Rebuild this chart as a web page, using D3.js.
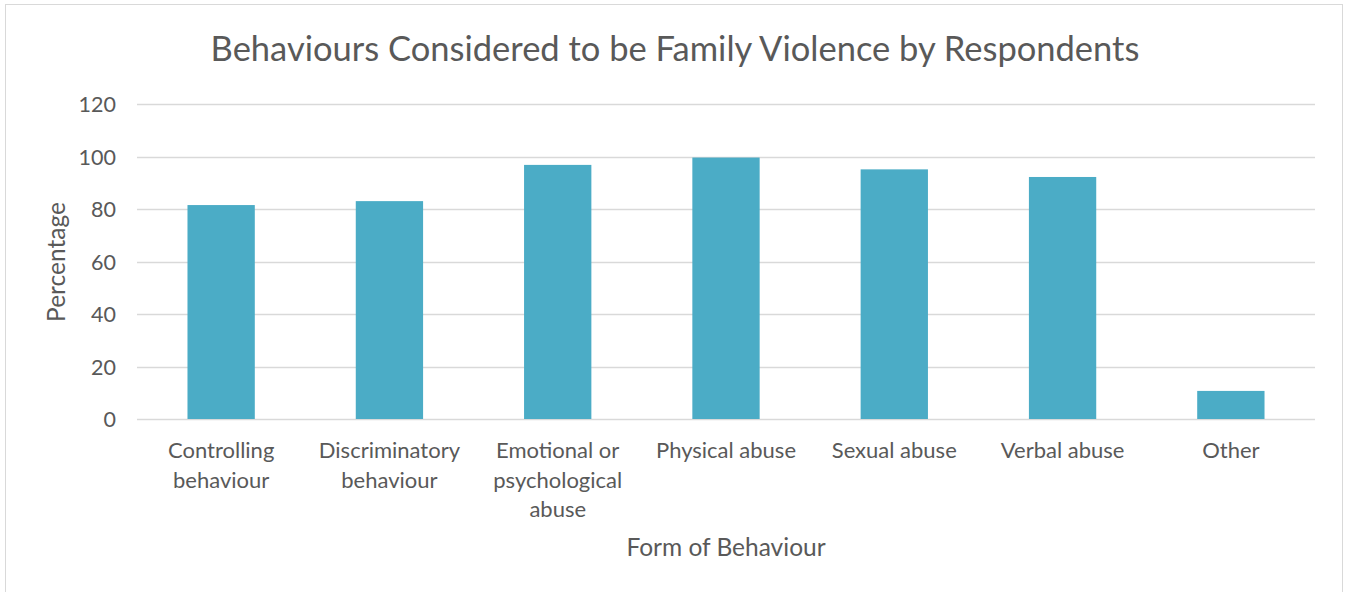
<!DOCTYPE html>
<html>
<head>
<meta charset="utf-8">
<script src="https://cdn.jsdelivr.net/npm/d3@7"></script>
<style>
  body { margin: 0; background: #fff; }
  text { font-family: Lato, "Open Sans", sans-serif; fill: #595959; }
</style>
</head>
<body>
<script>
// chart data
var categories = [
    ["Controlling", "behaviour"],
    ["Discriminatory", "behaviour"],
    ["Emotional or", "psychological", "abuse"],
    ["Physical abuse"],
    ["Sexual abuse"],
    ["Verbal abuse"],
    ["Other"]
];
var percentages = [81.5, 83.0, 96.8, 99.6, 95.1, 92.2, 10.7];
var yTicks = [0, 20, 40, 60, 80, 100, 120];

var w = 1348, h = 592;
var margin = {top: 104, right: 33, bottom: 173, left: 137};

var svg = d3.select("body")
    .append("svg")
    .attr("width", w)
    .attr("height", h);

//chart border
svg.append("rect")
    .attr("x", 5.5)
    .attr("y", 4.5)
    .attr("width", 1337)
    .attr("height", 600)
    .style("fill", "#fff")
    .style("stroke", "#d9d9d9");

var x = d3.scaleBand()
    .domain(d3.range(categories.length))
    .range([margin.left, w - margin.right])
    .paddingInner(0.6)
    .paddingOuter(0.3);

var y = d3.scaleLinear()
    .domain([0, 120])
    .range([h - margin.bottom, margin.top]);

//gridlines
svg.append("g")
    .selectAll("line")
    .data(yTicks)
    .enter()
    .append("line")
    .attr("x1", margin.left)
    .attr("x2", w - margin.right)
    .attr("y1", function(d){ return Math.round(y(d)) + 0.5; })
    .attr("y2", function(d){ return Math.round(y(d)) + 0.5; })
    .style("stroke", "#d9d9d9")
    .style("stroke-width", 1.5);

//bars
svg.selectAll(".bar")
    .data(percentages)
    .enter()
    .append("rect")
    .attr("class", "bar")
    .attr("x", function(d, i){ return x(i); })
    .attr("width", x.bandwidth())
    .attr("y", function(d){ return y(d); })
    .attr("height", function(d){ return y(0) - y(d); })
    .style("fill", "#4bacc6");

//y axis labels
var yAxis = d3.axisLeft(y).tickValues(yTicks).tickSize(0).tickPadding(0);
var yg = svg.append("g")
    .attr("transform", "translate(116,0)")
    .call(yAxis);
yg.select(".domain").remove();
yg.selectAll("text")
    .style("font-size", "21.5px")
    .style("fill", "#595959")
    .style("font-family", "Lato, sans-serif")
    .attr("dy", "0.35em");

//category labels
var labels = svg.selectAll(".cat")
    .data(categories)
    .enter()
    .append("text")
    .attr("class", "cat")
    .attr("text-anchor", "middle")
    .style("font-size", "22px")
    .attr("y", 458);

labels.selectAll("tspan")
    .data(function(d, i){ return d.map(function(t){ return {t: t, i: i}; }); })
    .enter()
    .append("tspan")
    .attr("x", function(d){ return x(d.i) + x.bandwidth() / 2; })
    .attr("dy", function(d, j){ return j === 0 ? 0 : 29.5; })
    .text(function(d){ return d.t; });

//title
svg.append("text")
    .attr("text-anchor", "middle")
    .attr("x", 675)
    .attr("y", 61)
    .style("font-size", "34.5px")
    .text("Behaviours Considered to be Family Violence by Respondents");

//axis titles
svg.append("text")
    .attr("text-anchor", "middle")
    .attr("x", 726)
    .attr("y", 556)
    .style("font-size", "24.5px")
    .text("Form of Behaviour");

svg.append("text")
    .attr("text-anchor", "middle")
    .attr("transform", "translate(65,262) rotate(-90)")
    .style("font-size", "24.5px")
    .text("Percentage");
</script>
</body>
</html>
